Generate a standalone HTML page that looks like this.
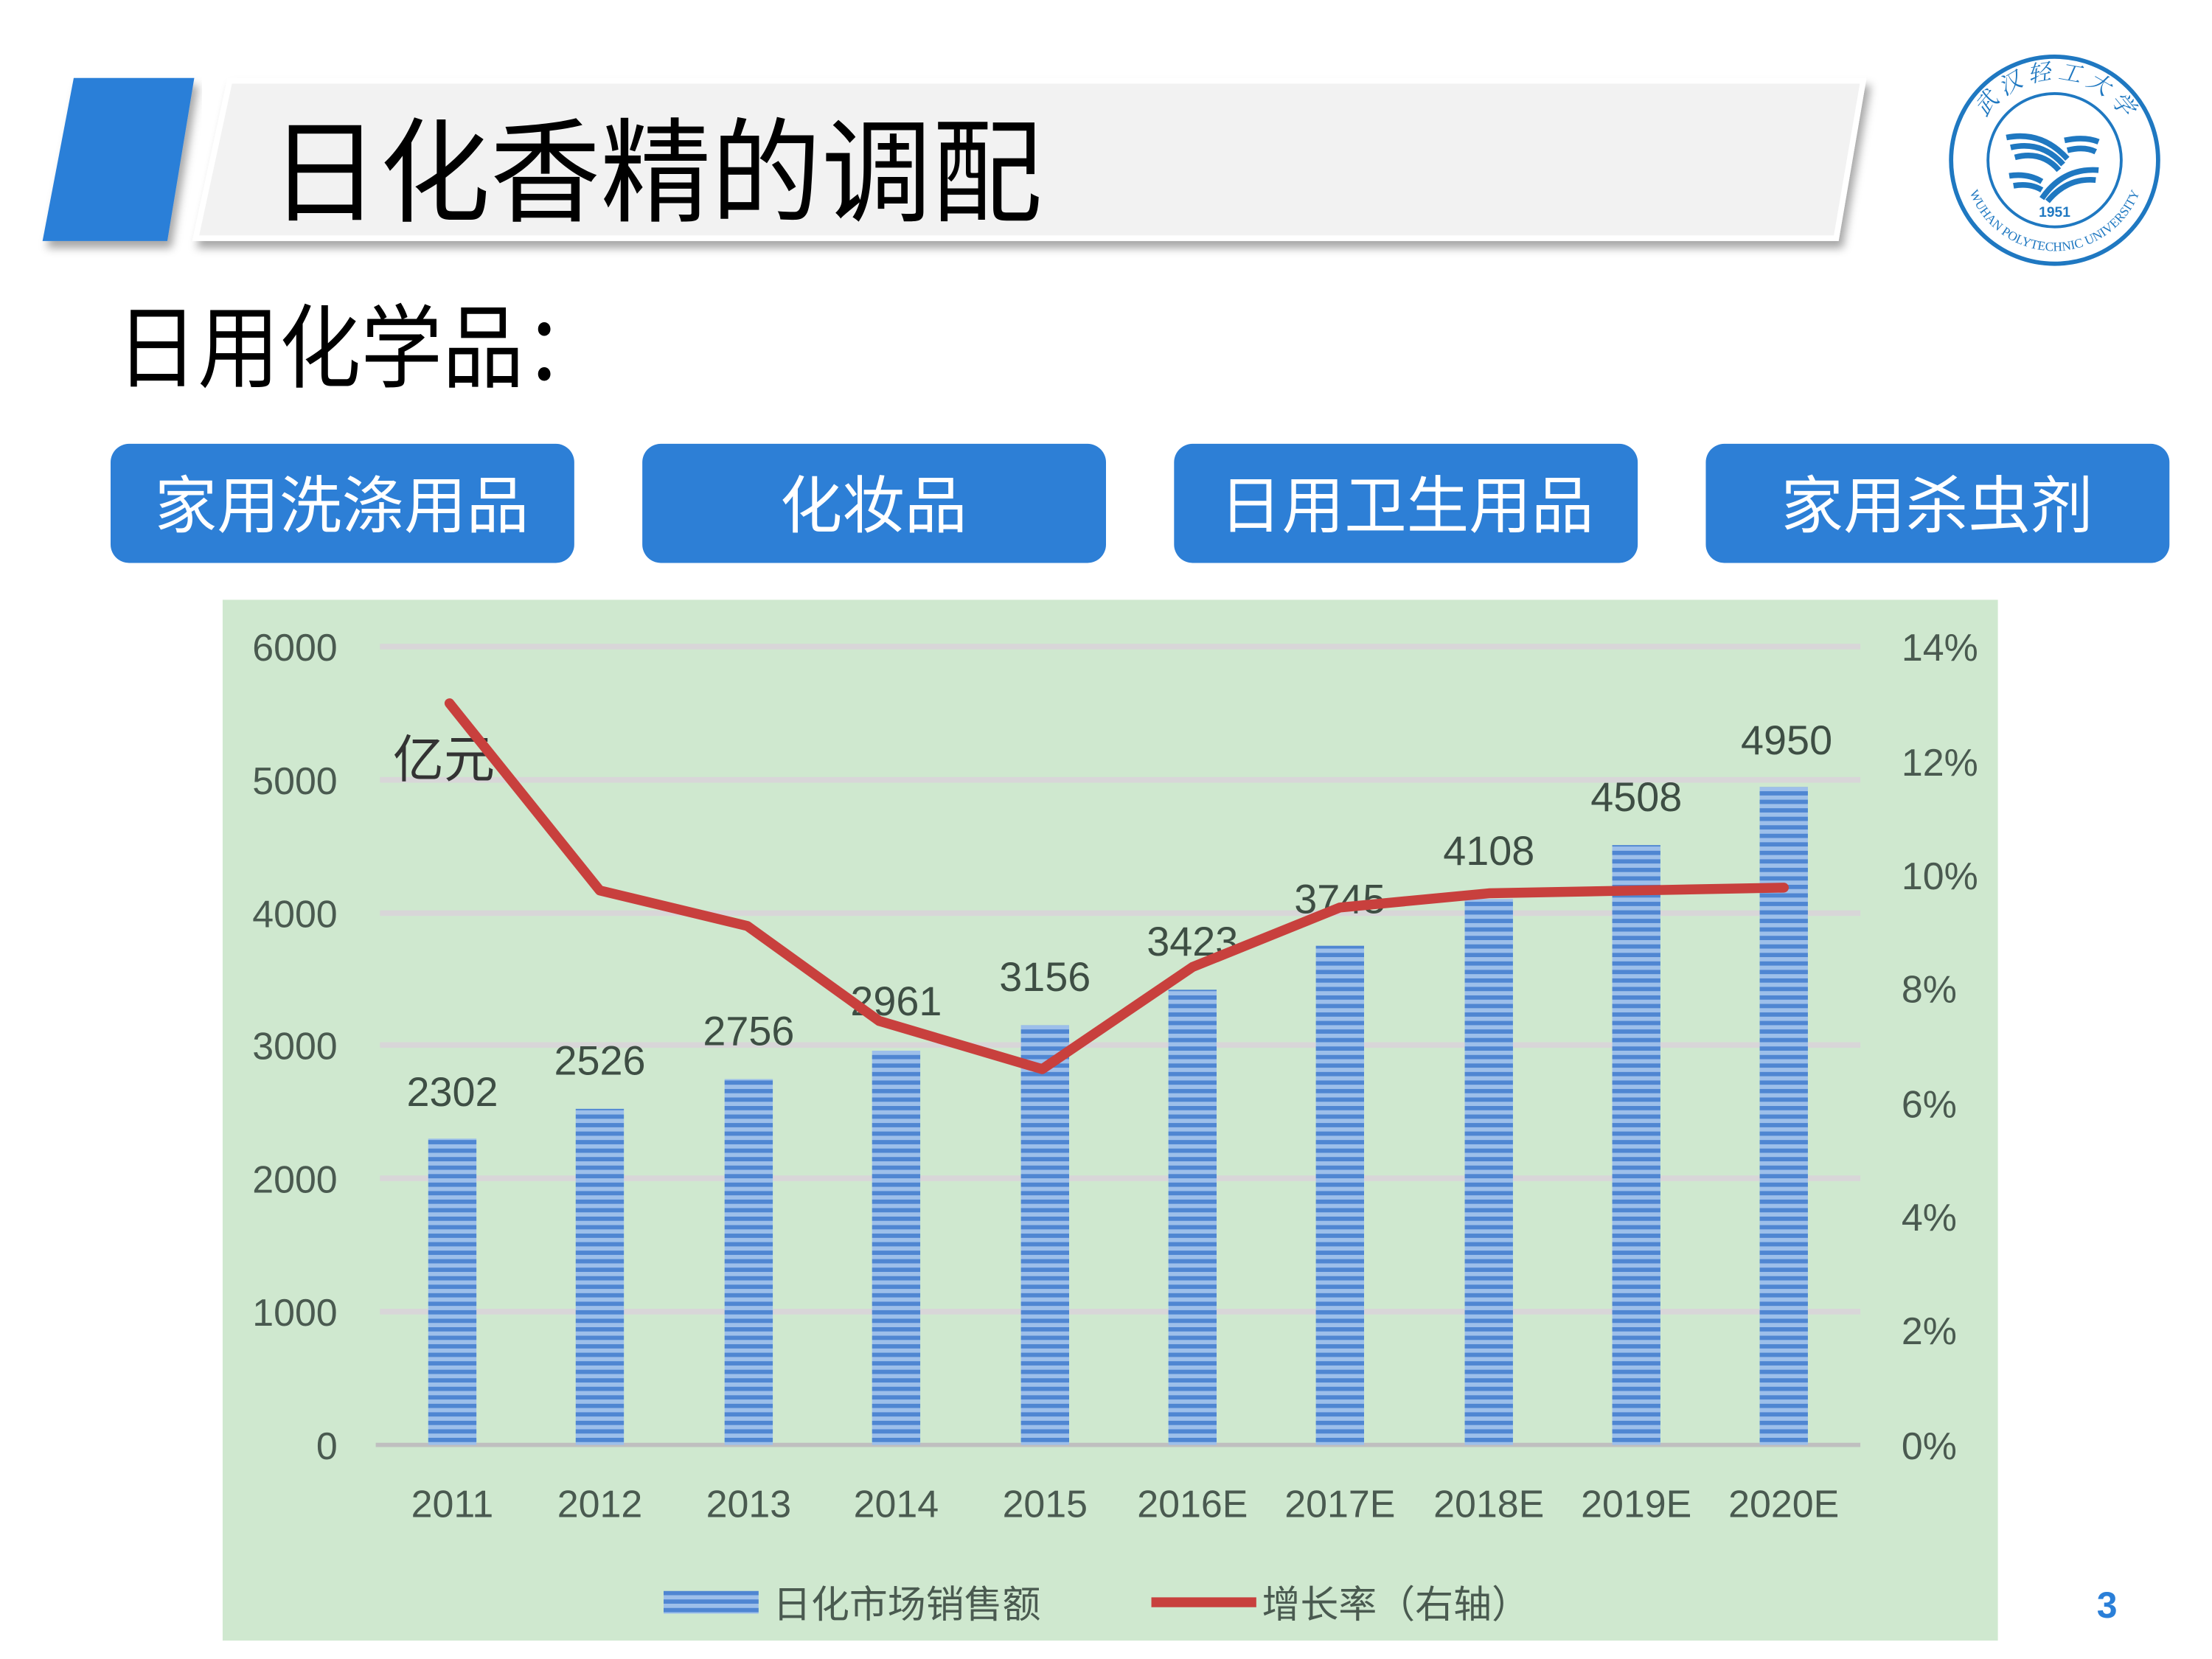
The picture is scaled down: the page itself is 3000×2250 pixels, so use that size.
<!DOCTYPE html>
<html><head><meta charset="utf-8"><style>
html,body{margin:0;padding:0;background:#fff;}
svg{display:block;}
.cn{font-family:"Liberation Sans","Noto Sans CJK SC",sans-serif;}
.ax{font-family:"Liberation Sans","Noto Sans CJK SC",sans-serif;fill:#4a5a50;font-size:27px;}
.vl{font-family:"Liberation Sans","Noto Sans CJK SC",sans-serif;fill:#3e4e44;font-size:29px;text-anchor:middle;}
</style></head><body>
<svg width="3000" height="2250" viewBox="0 0 1560 1170" xmlns="http://www.w3.org/2000/svg">
<defs>
<pattern id="st" width="34" height="6" patternUnits="userSpaceOnUse">
<rect width="34" height="6" fill="#4f86d2"/>
<rect y="3" width="34" height="3" fill="#9dbfea"/>
</pattern>
<filter id="sh" x="-5%" y="-20%" width="110%" height="150%"><feDropShadow dx="3" dy="5" stdDeviation="3" flood-color="#000" flood-opacity="0.35"/></filter>
<path id="arcTop" d="M1392 113 A57 57 0 0 1 1506 113"/>
<path id="arcBot" d="M1385 113 A64 64 0 0 0 1513 113"/>
</defs>
<rect width="1560" height="1170" fill="#fff"/>
<!-- header -->
<polygon points="52,55 137,55 118,170 30,170" fill="#2a7fd8" filter="url(#sh)"/>
<polygon points="162,57 1314,57 1295,168 138,168" fill="#f2f2f2" stroke="#fff" stroke-width="4" filter="url(#sh)"/>
<text x="190" y="150" class="cn" font-size="80" fill="#000" textLength="545" lengthAdjust="spacingAndGlyphs">日化香精的调配</text>
<!-- logo -->
<g fill="none" stroke="#1f78c1">
<circle cx="1449" cy="113" r="73" stroke-width="3"/>
<circle cx="1449" cy="113" r="47" stroke-width="2"/>
</g>
<g stroke="#1f78c1" stroke-width="4" fill="none">
<path d="M1415 97 Q1440 92 1458 112"/><path d="M1418 104 Q1440 99 1455 116"/><path d="M1421 111 Q1440 106 1452 120"/>
<path d="M1456 99 Q1470 96 1480 100"/><path d="M1458 106 Q1470 103 1478 107"/>
<path d="M1417 124 Q1430 122 1440 128"/><path d="M1420 131 Q1432 129 1440 134"/>
<path d="M1440 140 Q1455 118 1480 120"/><path d="M1444 142 Q1458 125 1478 127"/>
</g>
<text x="1449" y="153" font-family="Liberation Sans" font-size="10" font-weight="bold" fill="#1f78c1" text-anchor="middle">1951</text>
<text font-family="Liberation Serif,Noto Serif CJK SC,serif" font-size="16" fill="#1f78c1" font-style="italic"><textPath href="#arcTop" startOffset="50%" text-anchor="middle">武 汉 轻 工 大 学</textPath></text>
<text font-family="Liberation Serif" font-size="9" fill="#1f78c1"><textPath href="#arcBot" startOffset="50%" text-anchor="middle">WUHAN POLYTECHNIC UNIVERSITY</textPath></text>
<!-- subtitle -->
<text x="82" y="268" class="cn" font-size="64" fill="#000" textLength="345" lengthAdjust="spacingAndGlyphs">日用化学品：</text>
<!-- buttons -->
<g fill="#2d7fd6">
<rect x="78" y="313" width="327" height="84" rx="13"/>
<rect x="453" y="313" width="327" height="84" rx="13"/>
<rect x="828" y="313" width="327" height="84" rx="13"/>
<rect x="1203" y="313" width="327" height="84" rx="13"/>
</g>
<g class="cn" font-size="44" fill="#fff" text-anchor="middle">
<text x="241" y="372">家用洗涤用品</text>
<text x="616" y="372">化妆品</text>
<text x="992" y="372">日用卫生用品</text>
<text x="1366" y="372">家用杀虫剂</text>
</g>
<!-- chart -->
<rect x="157" y="423" width="1252" height="734" fill="#cfe8cf"/>
<g stroke="#d8d6d8" stroke-width="4">
<line x1="268" y1="456" x2="1312" y2="456"/>
<line x1="268" y1="550" x2="1312" y2="550"/>
<line x1="268" y1="644" x2="1312" y2="644"/>
<line x1="268" y1="737" x2="1312" y2="737"/>
<line x1="268" y1="831" x2="1312" y2="831"/>
<line x1="268" y1="925" x2="1312" y2="925"/>
</g>
<line x1="265" y1="1019" x2="1312" y2="1019" stroke="#bfbfbf" stroke-width="3"/>
<g class="ax" text-anchor="end">
<text x="238" y="466">6000</text><text x="238" y="560">5000</text><text x="238" y="654">4000</text>
<text x="238" y="747">3000</text><text x="238" y="841">2000</text><text x="238" y="935">1000</text><text x="238" y="1029">0</text>
</g>
<g class="ax">
<text x="1341" y="466">14%</text><text x="1341" y="547">12%</text><text x="1341" y="627">10%</text>
<text x="1341" y="707">8%</text><text x="1341" y="788">6%</text><text x="1341" y="868">4%</text>
<text x="1341" y="948">2%</text><text x="1341" y="1029">0%</text>
</g>
<g>
<rect x="302" y="803" width="34" height="216" fill="url(#st)"/>
<rect x="406" y="782" width="34" height="237" fill="url(#st)"/>
<rect x="511" y="761" width="34" height="258" fill="url(#st)"/>
<rect x="615" y="741" width="34" height="278" fill="url(#st)"/>
<rect x="720" y="723" width="34" height="296" fill="url(#st)"/>
<rect x="824" y="698" width="34" height="321" fill="url(#st)"/>
<rect x="928" y="667" width="34" height="352" fill="url(#st)"/>
<rect x="1033" y="634" width="34" height="385" fill="url(#st)"/>
<rect x="1137" y="596" width="34" height="423" fill="url(#st)"/>
<rect x="1241" y="555" width="34" height="464" fill="url(#st)"/>
</g>
<g class="vl">
<text x="319" y="780">2302</text><text x="423" y="758">2526</text><text x="528" y="737">2756</text>
<text x="632" y="716">2961</text><text x="737" y="699">3156</text><text x="841" y="674">3423</text>
<text x="945" y="644">3745</text><text x="1050" y="610">4108</text><text x="1154" y="572">4508</text>
<text x="1260" y="532">4950</text>
</g>
<text x="277" y="548" class="cn" font-size="36" fill="#333">亿元</text>
<polyline points="317,496 423,628 527,653 620,720 735,754 841,682 945,640 1050,630 1154,628 1258,626" fill="none" stroke="#c8403d" stroke-width="7" stroke-linejoin="round" stroke-linecap="round"/>
<g class="ax" font-size="28" text-anchor="middle">
<text x="319" y="1070">2011</text><text x="423" y="1070">2012</text><text x="528" y="1070">2013</text>
<text x="632" y="1070">2014</text><text x="737" y="1070">2015</text><text x="841" y="1070">2016E</text>
<text x="945" y="1070">2017E</text><text x="1050" y="1070">2018E</text><text x="1154" y="1070">2019E</text>
<text x="1258" y="1070">2020E</text>
</g>
<rect x="468" y="1122" width="67" height="16" fill="url(#st)"/>
<text x="545" y="1141" class="ax" font-size="28">日化市场销售额</text>
<line x1="812" y1="1130" x2="886" y2="1130" stroke="#c8403d" stroke-width="7"/>
<text x="890" y="1141" class="ax" font-size="28">增长率（右轴）</text>
<text x="1486" y="1141" font-family="Liberation Sans" font-weight="bold" font-size="26" fill="#2a7fd8" text-anchor="middle">3</text>
</svg>
</body></html>
